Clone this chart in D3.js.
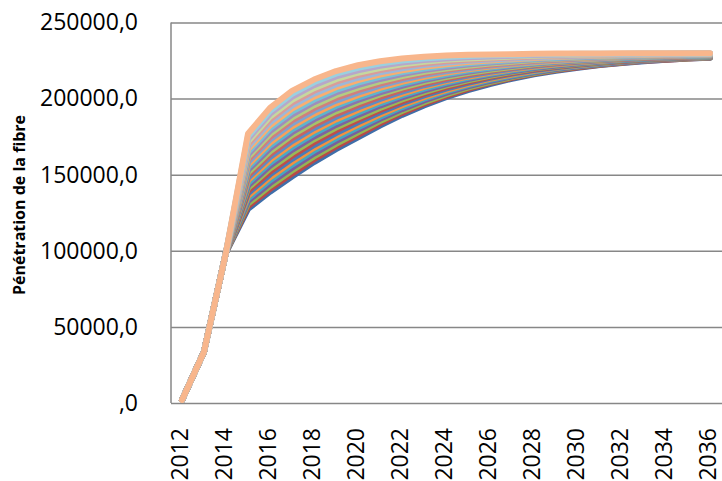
<!DOCTYPE html>
<html>
<head>
<meta charset="utf-8">
<script src="https://cdn.jsdelivr.net/npm/d3@7"></script>
<style>
  html, body { margin: 0; padding: 0; background: #ffffff; }
  svg { display: block; }
</style>
</head>
<body>
<svg id="chart" width="722" height="481"></svg>
<script>
// ---------- DATA ----------
const years = ["2012","2013","2014","2015","2016","2017","2018","2019","2020","2021","2022","2023",
               "2024","2025","2026","2027","2028","2029","2030","2031","2032","2033","2034","2035","2036"];
const xTickLabels = ["2012","2014","2016","2018","2020","2022","2024","2026","2028","2030","2032","2034","2036"];
const yTicks = [0, 50000, 100000, 150000, 200000, 250000];
const yTickLabels = [",0", "50000,0", "100000,0", "150000,0", "200000,0", "250000,0"];
const yAxisTitle = "Pénétration de la fibre";

// values shared by every series for 2012, 2013, 2014
const commonStart = [2000, 33700, 99000];

// values 2015 ... 2036, one array per series (bottom series first)
const s01 = [127600,138800,148800,158300,166800,174600,182300,189300,195500,200900,205600,209600,213000,215900,218300,220300,222000,223400,224600,225500,226300,226900];
const s02 = [129300,140700,150700,160200,168600,176200,183800,190600,196600,201800,206400,210300,213600,216400,218700,220600,222300,223600,224800,225600,226400,227000];
const s03 = [131000,142600,152700,162000,170300,177900,185200,191900,197700,202800,207200,210900,214100,216800,219100,221000,222500,223800,225000,225800,226500,227100];
const s04 = [132700,144500,154600,163900,172100,179500,186700,193100,198800,203700,208000,211600,214700,217300,219500,221300,222800,224100,225100,225900,226700,227200];
const s05 = [134400,146400,156600,165800,173900,181100,188100,194400,199900,204700,208800,212300,215200,217800,219900,221600,223100,224300,225300,226100,226800,227300];
const s06 = [136100,148300,158500,167700,175700,182800,189600,195700,201000,205600,209600,213000,215800,218300,220300,221900,223300,224500,225500,226200,226900,227400];
const s07 = [137800,150200,160400,169500,177400,184400,191000,197000,202100,206600,210400,213600,216400,218700,220600,222300,223600,224700,225700,226400,227000,227500];
const s08 = [139500,152100,162400,171400,179200,186000,192500,198200,203200,207500,211200,214300,216900,219200,221000,222600,223900,224900,225800,226500,227100,227600];
const s09 = [141200,154000,164300,173300,181000,187600,193900,199500,204300,208500,212000,215000,217500,219700,221400,222900,224100,225200,226000,226700,227300,227700];
const s10 = [142900,155900,166300,175100,182700,189300,195400,200800,205400,209400,212800,215600,218000,220100,221800,223200,224400,225400,226200,226800,227400,227800];
const s11 = [144600,157800,168200,177000,184500,190900,196900,202100,206600,210400,213600,216300,218600,220600,222200,223600,224700,225600,226400,227000,227500,227900];
const s12 = [146300,159700,170100,178900,186300,192500,198300,203300,207700,211300,214400,217000,219200,221100,222600,223900,224900,225800,226600,227100,227600,228000];
const s13 = [148000,161600,172100,180700,188000,194200,199800,204600,208800,212200,215200,217600,219700,221500,223000,224200,225200,226000,226700,227300,227800,228100];
const s14 = [149700,163500,174000,182600,189800,195800,201200,205900,209900,213200,216000,218300,220300,222000,223400,224500,225500,226200,226900,227400,227900,228200];
const s15 = [151400,165400,176000,184500,191600,197400,202700,207200,211000,214100,216800,219000,220800,222500,223800,224900,225700,226500,227100,227600,228000,228300];
const s16 = [153100,167300,177900,186400,193400,199100,204100,208400,212100,215100,217600,219700,221400,223000,224200,225200,226000,226700,227300,227700,228100,228400];
const s17 = [154800,169200,179800,188200,195100,200700,205600,209700,213200,216000,218400,220300,222000,223400,224500,225500,226300,226900,227400,227900,228200,228500];
const s18 = [156500,171100,181800,190100,196900,202300,207000,211000,214300,217000,219200,221000,222500,223900,224900,225800,226500,227100,227600,228000,228400,228600];
const s19 = [158200,173000,183700,192000,198700,203900,208500,212300,215400,217900,220000,221700,223100,224400,225300,226200,226800,227300,227800,228200,228500,228700];
const s20 = [159900,174900,185700,193800,200400,205600,209900,213500,216500,218900,220800,222300,223600,224800,225700,226500,227100,227600,228000,228300,228600,228800];
const s21 = [161600,176800,187600,195700,202200,207200,211400,214800,217600,219800,221600,223000,224200,225300,226100,226800,227300,227800,228200,228500,228700,228900];
const s22 = [163300,178700,189500,197600,204000,208800,212900,216100,218700,220700,222400,223700,224800,225800,226500,227100,227600,228000,228300,228600,228800,229000];
const s23 = [165000,180600,191500,199400,205700,210500,214300,217400,219800,221700,223200,224300,225300,226200,226900,227500,227900,228200,228500,228800,229000,229100];
const s24 = [166700,182500,193400,201300,207500,212100,215800,218600,220900,222600,224000,225000,225900,226700,227300,227800,228100,228400,228700,228900,229100,229200];
const s25 = [168400,184400,195400,203200,209300,213700,217200,219900,222000,223600,224800,225700,226400,227200,227700,228100,228400,228700,228900,229100,229200,229300];
const s26 = [170100,186300,197300,205100,211100,215400,218700,221200,223100,224500,225600,226400,227000,227700,228100,228400,228700,228900,229100,229200,229300,229400];
const s27 = [171800,188200,199200,206900,212800,217000,220100,222500,224200,225500,226400,227000,227600,228100,228400,228800,228900,229100,229200,229300,229400,229500];
const s28 = [173500,190100,201200,208800,214600,218600,221600,223700,225300,226400,227200,227700,228100,228600,228800,229100,229200,229300,229400,229500,229600,229600];
const s29 = [175200,192000,203100,210700,216400,220200,223000,225000,226400,227400,228000,228400,228700,229100,229200,229400,229500,229500,229600,229600,229700,229700];
const s30 = [176900,193900,205100,212500,218100,221900,224500,226300,227500,228300,228800,229000,229200,229500,229600,229700,229700,229800,229800,229800,229800,229800];

const seriesTails = [s01,s02,s03,s04,s05,s06,s07,s08,s09,s10,s11,s12,s13,s14,s15,
                     s16,s17,s18,s19,s20,s21,s22,s23,s24,s25,s26,s27,s28,s29,s30];

const seriesColors = [
  "#3F6FAA","#B94A47","#93B554","#7A5E9C","#45A6C0","#F3903F",
  "#4A7CB8","#BE4E4B","#98B957","#7E62A0","#49AAC4","#F69444",
  "#5E8CC4","#C76461","#A4C36B","#8C74AD","#5DB4CC","#F8A05A",
  "#7FA3CF","#D07F7D","#B3CC82","#A08DBB","#79C1D5","#F9AE71",
  "#9DB8D9","#D99C9A","#C6D89F","#B7A7CA","#9BD0DF","#F8B68C"
];

// ---------- CHART ----------
const W = 722, H = 481;
const plot = { left: 171, right: 721, top: 22.5, bottom: 403 };
const FONT = "'Open Sans', 'Liberation Sans', sans-serif";

const svg = d3.select("#chart");
svg.append("rect").attr("width", W).attr("height", H).attr("fill", "#ffffff");

const x = d3.scaleBand().domain(years).range([plot.left, plot.right]).padding(0);
const y = d3.scaleLinear().domain([0, 250000]).range([plot.bottom, plot.top]);
const cx = yr => x(yr) + x.bandwidth() / 2;

// gridlines
const grid = svg.append("g")
  .attr("transform", `translate(${plot.left},0)`)
  .call(d3.axisLeft(y).tickValues(yTicks).tickSize(-(W - plot.left)).tickFormat(""));
grid.select(".domain").remove();
grid.selectAll(".tick line").attr("stroke", "#878787").attr("stroke-width", 1.5);

// left axis line
svg.append("line")
  .attr("x1", plot.left).attr("x2", plot.left)
  .attr("y1", plot.top).attr("y2", plot.bottom)
  .attr("stroke", "#878787").attr("stroke-width", 1.5);

// y tick labels
const yAxis = svg.append("g")
  .attr("transform", `translate(${plot.left},0)`)
  .call(d3.axisLeft(y).tickValues(yTicks).tickSize(0).tickPadding(33)
        .tickFormat((d, i) => yTickLabels[i]));
yAxis.select(".domain").remove();
yAxis.selectAll("text")
  .attr("font-family", FONT).attr("font-size", 23).attr("fill", "#000");

// x tick labels
const xAxis = svg.append("g")
  .attr("transform", `translate(0,${plot.bottom})`)
  .call(d3.axisBottom(x).tickValues(xTickLabels).tickSize(0));
xAxis.select(".domain").remove();
xAxis.selectAll("text")
  .attr("font-family", FONT).attr("font-size", 23).attr("fill", "#000")
  .attr("transform", "rotate(-90)")
  .attr("x", -25).attr("y", -2).attr("dy", "0.35em")
  .style("text-anchor", "end");

// y axis title
svg.append("text")
  .attr("transform", `translate(25,205) rotate(-90)`)
  .attr("text-anchor", "middle")
  .attr("font-family", FONT).attr("font-size", 16).attr("font-weight", "bold")
  .attr("fill", "#000")
  .text(yAxisTitle);

// lines
const line = d3.line()
  .x((d, i) => cx(years[i]))
  .y(d => y(d));

svg.append("g").selectAll("path")
  .data(seriesTails.map(t => commonStart.concat(t)))
  .join("path")
  .attr("d", line)
  .attr("fill", "none")
  .attr("stroke", (d, i) => seriesColors[i])
  .attr("stroke-width", 6)
  .attr("stroke-linejoin", "round")
  .attr("stroke-linecap", "round");
</script>
</body>
</html>
